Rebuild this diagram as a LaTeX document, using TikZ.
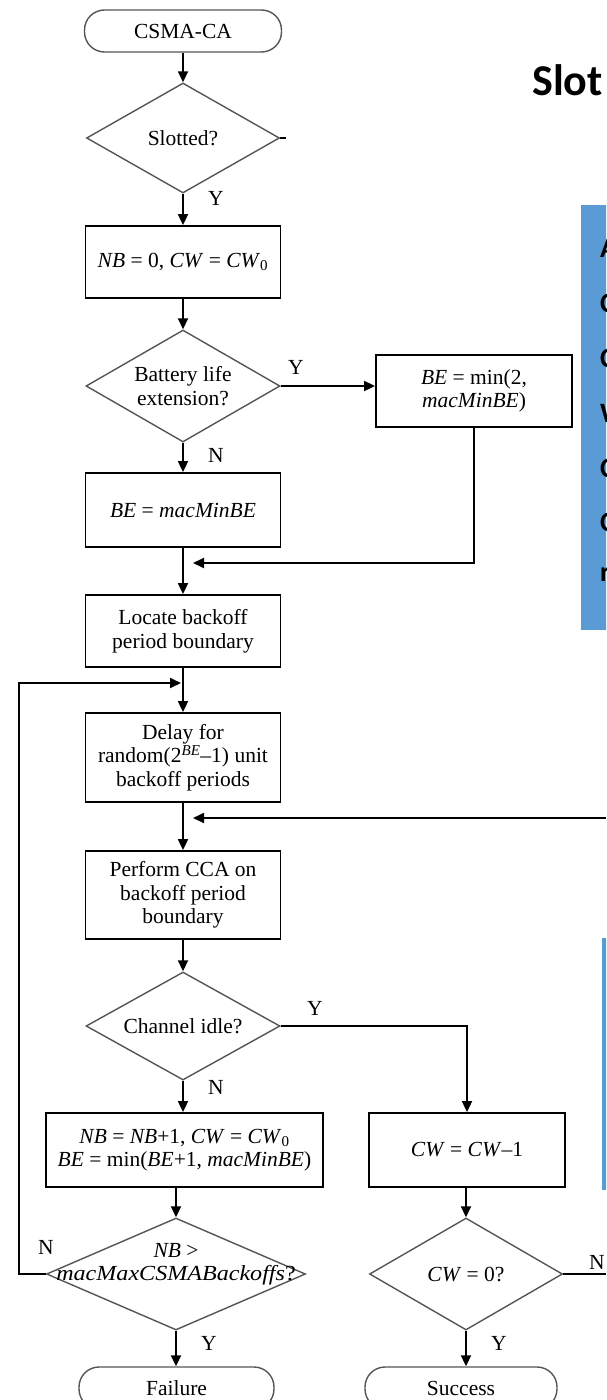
\documentclass[tikz,border=0pt]{standalone}
\usepackage{fontspec}
\setmainfont{Liberation Serif}
\newfontfamily\slidefont{Carlito}
\usetikzlibrary{shapes.geometric,arrows.meta}
\definecolor{slideblue}{HTML}{5B9BD5}
\definecolor{dgray}{HTML}{555555}
\newcommand\flowfont{\fontsize{21.5}{23.5}\selectfont}
\begin{document}
\begin{tikzpicture}[x=1pt,y=-1pt,
  proc/.style={draw, line width=1.8pt, fill=white, minimum width=195pt, minimum height=72pt, align=center, inner sep=2pt, font=\flowfont},
  term/.style={draw=dgray, line width=1.4pt, fill=white, rounded corners=20pt, minimum width=197pt, minimum height=42pt, font=\flowfont},
  dec/.style={draw=dgray, line width=1.4pt, diamond, inner sep=0pt},
  conn/.style={line width=1.8pt, -{Triangle[length=11pt,width=10pt]}},
  plain/.style={line width=1.8pt},
  lab/.style={font=\flowfont, inner sep=0pt, align=center},
  slidetext/.style={font=\slidefont\bfseries\fontsize{28}{30}\selectfont, anchor=west, inner sep=0pt}
]
\useasboundingbox (0,0) rectangle (606,1400);
\clip (0,0) rectangle (606,1400);
\fill[white] (0,0) rectangle (606,1400);

% slide parts
\node[anchor=base west, inner sep=0pt, font=\slidefont\bfseries\fontsize{44}{50}\selectfont] (title) at (532,95) {Slot};
\fill[slideblue] (581,205) rectangle (620,630);
\node[slidetext] (t1) at (600,248) {A};
\node[slidetext] (t2) at (600,303) {C};
\node[slidetext] (t3) at (600,358) {C};
\node[slidetext] (t4) at (600,413) {W};
\node[slidetext] (t5) at (600,468) {C};
\node[slidetext] (t6) at (600,522) {C};
\node[slidetext] (t7) at (600,575) {r};
\fill[slideblue] (602,938) rectangle (620,1190);

% nodes
\node[term] (start) at (183,31) {CSMA-CA};
\node[dec, minimum width=193pt, minimum height=110pt] (slotted) at (183,138) {};
\node[lab] (slottedt) at (slotted) {Slotted?};
\node[proc] (nb0) at (183,262) {\textit{NB} = 0, \textit{CW} = \textit{CW}\textsubscript{0}};
\node[dec, minimum width=194pt, minimum height=112pt] (battery) at (183,386) {};
\node[lab] (batteryt) at (battery) {Battery life\\extension?};
\node[proc, minimum width=196pt] (bemin) at (474,391) {\textit{BE} = min(2,\\\textit{macMinBE})};
\node[proc, minimum height=74pt] (bemac) at (183,510) {\textit{BE} = \textit{macMinBE}};
\node[proc] (locate) at (183,631) {Locate backoff\\period boundary};
\node[proc, minimum height=89pt] (delay) at (183,757.5) {Delay for\\random(2\textsuperscript{\textit{BE}}–1) unit\\backoff periods};
\node[proc, minimum height=88pt] (perform) at (183,895) {Perform CCA on\\backoff period\\boundary};
\node[dec, minimum width=194pt, minimum height=108pt] (idle) at (183,1026) {};
\node[lab] (idlet) at (idle) {Channel idle?};
\node[proc, minimum width=277pt, minimum height=74pt] (nbinc) at (184.5,1150) {\textit{NB} = \textit{NB}+1, \textit{CW} = \textit{CW}\textsubscript{0}\\\textit{BE} = min(\textit{BE}+1, \textit{macMinBE})};
\node[proc, minimum width=196pt, minimum height=74pt] (cwdec) at (467,1150) {\textit{CW} = \textit{CW}–1};
\node[dec, minimum width=259pt, minimum height=112pt] (nbmax) at (176,1274) {};
\node[lab] (nbmaxt) at (176,1264) {\textit{NB} >\\\scalebox{1.12}[1]{\textit{macMaxCSMABackoffs}?}};
\node[dec, minimum width=193pt, minimum height=112pt] (cw0) at (466,1274) {};
\node[lab] (cw0t) at (cw0) {\textit{CW} = 0?};
\node[term, minimum width=195pt] (failure) at (176.5,1388) {Failure};
\node[term, minimum width=192pt] (success) at (461,1388) {Success};

% connectors
\draw[conn] (start) -- (slotted);
\draw[conn] (slotted) -- (nb0);
\draw[plain] (slotted.east) -- ++(6,0);
\draw[conn] (nb0) -- (battery);
\draw[conn] (battery.east) -- (battery.east -| bemin.west);
\draw[conn] (battery) -- (bemac);
\draw[conn] (bemac) -- (locate);
\coordinate (m1) at (193,563);
\draw[conn] (bemin.south) |- (m1);
\draw[conn] (locate) -- (delay);
\draw[conn] (delay) -- (perform);
\coordinate (r1) at (606,818);
\coordinate (r2) at (193,818);
\draw[conn] (r1) -- (r2);
\draw[conn] (perform) -- (idle);
\draw[conn] (idle.east) -| (cwdec.north);
\draw[conn] (idle.south) -- (idle.south |- nbinc.north);
\draw[conn] (nbmax.north |- nbinc.south) -- (nbmax.north);
\draw[conn] (cw0.north |- cwdec.south) -- (cw0.north);
\coordinate (l1) at (19,683);
\coordinate (l2) at (181,683);
\draw[conn] (nbmax.west) -| (l1) -- (l2);
\coordinate (rr) at (606,1274);
\draw[plain] (cw0.east) -- (rr);
\draw[conn] (nbmax.south) -- (nbmax.south |- failure.north);
\draw[conn] (cw0.south) -- (cw0.south |- success.north);

% labels
\node[lab] (y1) at (216,198) {Y};
\node[lab] (y2) at (296,367) {Y};
\node[lab] (n1) at (216,455) {N};
\node[lab] (y3) at (315,1008) {Y};
\node[lab] (n2) at (216,1087) {N};
\node[lab] (n3) at (46,1247) {N};
\node[lab] (y4) at (209,1343) {Y};
\node[lab] (y5) at (499,1343) {Y};
\node[lab] (n4) at (597,1262) {N};
\end{tikzpicture}
\end{document}
